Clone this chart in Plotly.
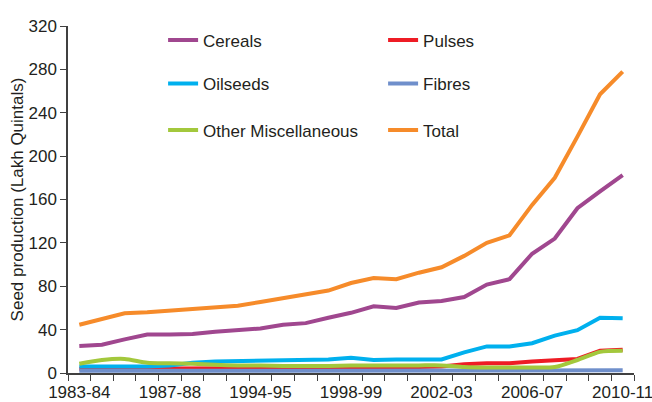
import plotly.graph_objects as go

years = ["1983-84", "1984-85", "1985-86", "1986-87", "1987-88", "1988-89", "1990-91",
         "1992-93", "1994-95", "1995-96", "1996-97", "1997-98", "1998-99", "1999-00",
         "2000-01", "2001-02", "2002-03", "2003-04", "2004-05", "2005-06", "2006-07",
         "2007-08", "2008-09", "2009-10", "2010-11"]
tick_labels = ["1983-84", "1987-88", "1994-95", "1998-99", "2002-03", "2006-07", "2010-11"]

cereals = [25, 26, 31, 35.5, 35.5, 36, 38, 39.5, 41, 44.5, 46, 51, 55.5, 61.5, 60, 65,
           66.5, 70, 81.5, 86.5, 110, 124, 152, 167.5, 182.5]
pulses = [4, 4, 4, 4, 4, 4.5, 4.5, 4.5, 4.5, 5, 5, 5.5, 5.5, 5.5, 5.5, 5.5, 6, 8, 9, 9,
          10.5, 11.5, 13, 20.5, 21.5]
oilseeds = [6, 6, 6, 6, 7, 9.5, 10.5, 11, 11.5, 12, 12, 12.5, 14, 12, 12.5, 12.5, 12.5,
            19, 24.5, 24.5, 27.5, 34.5, 39.5, 51, 50.5]
fibres = [2, 2, 2, 2, 2, 2, 2, 2, 2, 2, 2, 2, 2.5, 2.5, 2.5, 2.5, 2.5, 2.5, 2.5, 2.5,
          2.5, 2.5, 2.5, 2.5, 2.5]
other_misc = [8.5, 12, 13, 9.5, 9, 8.5, 7.5, 7, 7, 6.5, 6.5, 6.5, 7, 7, 7, 7, 7, 5.5,
              5, 5, 5, 5.5, 12, 19.5, 20.5]
total = [44.5, 50, 55, 56, 57.5, 58.5, 60, 62, 65.5, 69, 72.5, 76, 83, 87.5, 86.5, 92.5,
         97.5, 108, 120, 127, 155, 180, 218, 257, 278]

series = [
    ("Cereals", cereals, "#A0478F", "legend", "linear"),
    ("Pulses", pulses, "#EE1C25", "legend", "linear"),
    ("Oilseeds", oilseeds, "#00B0EE", "legend2", "linear"),
    ("Fibres", fibres, "#6F8FCB", "legend2", "linear"),
    ("Other Miscellaneous", other_misc, "#A3C83C", "legend3", "spline"),
    ("Total", total, "#F68B2A", "legend3", "linear"),
]

fig = go.Figure()
for name, vals, color, leg, shape in series:
    fig.add_trace(go.Scatter(x=years, y=vals, name=name, mode="lines",
                             line=dict(color=color, width=4, shape=shape, smoothing=0.7),
                             legend=leg))

font = dict(family="Liberation Sans, Arial, sans-serif", size=17, color="#231F20")
axis_col = "#404040"

ticktext = [y if y in tick_labels else "" for y in years]

fig.update_layout(
    width=652, height=402,
    margin=dict(l=68, r=18, t=25.5, b=29.3),
    paper_bgcolor="white", plot_bgcolor="white",
    font=font,
    showlegend=True,
    xaxis=dict(type="category", range=[-0.5, 24.5], tickmode="array",
               tickvals=years, ticktext=ticktext, tickson="boundaries", tickangle=0,
               ticks="outside", ticklen=6, tickcolor=axis_col, tickwidth=1.3,
               ticklabelstandoff=3,
               showline=True, linecolor=axis_col, linewidth=1.5, automargin=False,
               showgrid=False, zeroline=False, tickfont=font),
    yaxis=dict(range=[0, 320], dtick=40, tick0=0, ticks="outside", ticklen=6,
               tickcolor=axis_col, tickwidth=1.3, showline=True, linecolor=axis_col,
               linewidth=1.5, showgrid=False, zeroline=False, tickfont=font,
               automargin=False,
               title=dict(text="Seed production (Lakh Quintals)", font=font, standoff=1)),
)

leg_common = dict(orientation="h", xanchor="left", yanchor="middle", x=0.168,
                  entrywidth=175, bgcolor="rgba(0,0,0,0)", font=font, itemwidth=30)
fig.update_layout(
    legend=dict(y=0.958, **leg_common),
    legend2=dict(y=0.833, **leg_common),
    legend3=dict(y=0.699, **leg_common),
)

fig.write_html("out.html", config={"displayModeBar": False},
               post_script="document.body.style.margin='0';document.body.style.overflow='hidden';")
